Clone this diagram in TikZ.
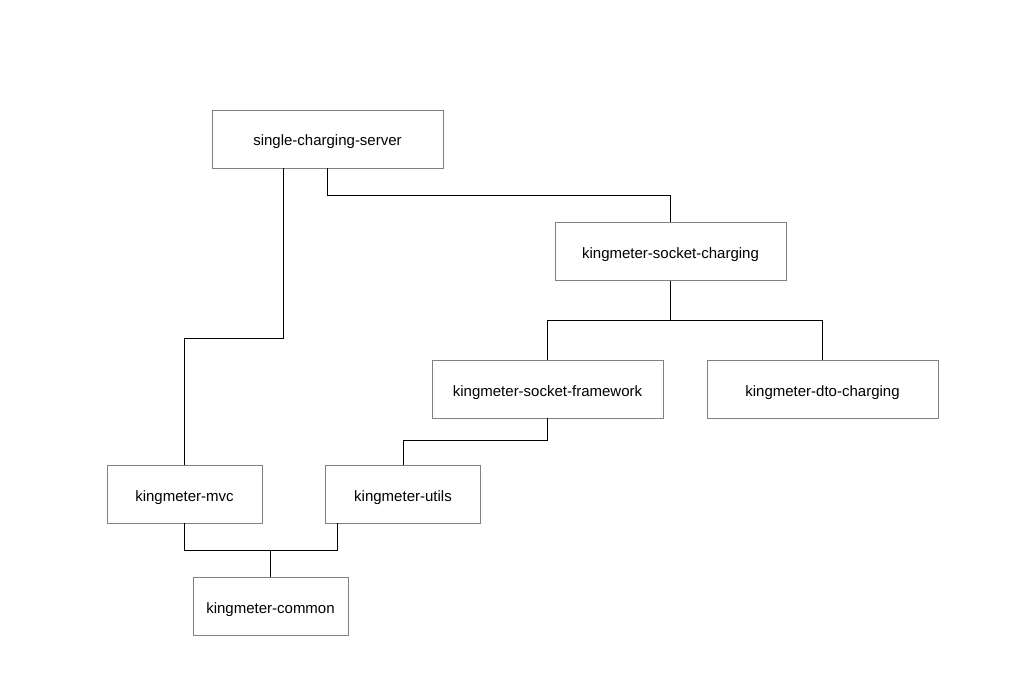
\documentclass[tikz,border=0pt]{standalone}
\usepackage{fontspec}
\setmainfont{Liberation Sans}
\begin{document}
\begin{tikzpicture}[x=1pt,y=-1pt,
  mod/.style={draw=black!50,line width=0.9pt,inner sep=0pt,minimum height=58pt,text height=14pt,text depth=0pt,font=\fontsize{15}{18}\selectfont},
  wide/.style={mod,minimum width=231pt},
  narrow/.style={mod,minimum width=155pt},
  link/.style={draw=black,line width=1pt}]
\useasboundingbox (0,0) rectangle (1015,676);
\node[wide] (srv) at (327.5,139) {single-charging-server};
\node[wide] (sock) at (670.5,251.5) {kingmeter-socket-charging};
\node[wide] (fw) at (547.5,389) {kingmeter-socket-framework};
\node[wide] (dto) at (822.5,389) {kingmeter-dto-charging};
\node[narrow] (mvc) at (184.5,494) {kingmeter-mvc};
\node[narrow] (utils) at (403,494) {kingmeter-utils};
\node[narrow] (common) at (270.5,606) {kingmeter-common};
\draw[link] ([xshift=-44.5pt]srv.south) -- ++(0,170) -| (mvc.north);
\draw[link] (srv.south) -- ++(0,27) -| (sock.north);
\draw[link] (sock.south) -- ++(0,40) -| (fw.north);
\draw[link] (sock.south) -- ++(0,40) -| (dto.north);
\draw[link] (fw.south) -- ++(0,22) -| (utils.north);
\draw[link] (mvc.south) -- ++(0,27) -| (common.north);
\draw[link] ([xshift=-66pt]utils.south) -- ++(0,27) -| (common.north);
\end{tikzpicture}
\end{document}
